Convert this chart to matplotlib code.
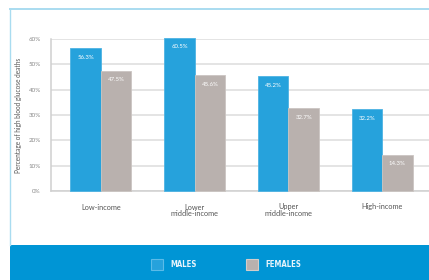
import matplotlib
matplotlib.use("Agg")
import matplotlib.pyplot as plt
import numpy as np
from matplotlib.patches import Rectangle
from matplotlib.lines import Line2D

# data
categories = ["Low-income", "Lower\nmiddle-income", "Upper\nmiddle-income", "High-income"]
males = [56.3, 60.5, 45.2, 32.2]
females = [47.5, 45.6, 32.7, 14.3]
yticks = [0, 10, 20, 30, 40, 50, 60]

BLUE = "#26A2DC"
GREY = "#B9B1AE"
BAND = "#0095D5"
FRAME = "#A9DCF0"

plt.rcParams["font.family"] = ["Lato", "DejaVu Sans"]

fig = plt.figure(figsize=(4.29, 2.80), dpi=100)
W, H = 429, 280

def fx(px):
    return px / W

def fy(py):
    return 1 - py / H

# frame and blue band at the bottom
fig.patches.append(Rectangle((fx(10), 0), 1 - fx(10), fy(245), transform=fig.transFigure,
                             facecolor=BAND, edgecolor="none", zorder=0))
fig.lines.append(Line2D([fx(10), 1], [fy(9), fy(9)], transform=fig.transFigure,
                        color=FRAME, lw=1.4))
fig.lines.append(Line2D([fx(10), fx(10)], [fy(9), fy(245)], transform=fig.transFigure,
                        color=FRAME, lw=1.0))

ax = fig.add_axes([fx(50.7), fy(191), 1 - fx(50.7), fy(39) - fy(191)])
x = np.arange(len(categories))
w = 0.325
b1 = ax.bar(x - w / 2, males, w, color=BLUE, edgecolor="#4DB3E3", linewidth=0.6,
            zorder=3, clip_on=False)
b2 = ax.bar(x + w / 2, females, w, color=GREY, edgecolor="#CBC5C2", linewidth=0.6,
            zorder=3, clip_on=False)

for bars, vals in ((b1, males), (b2, females)):
    for r, v in zip(bars, vals):
        ax.annotate(f"{v}%", (r.get_x() + r.get_width() / 2, v), xytext=(0, -6.5),
                    textcoords="offset points", ha="center", va="center",
                    color="white", fontsize=4.3, zorder=4, annotation_clip=False)

ax.set_xlim(-0.535, 3.5)
ax.set_ylim(0, 60)
ax.set_yticks(yticks)
ax.set_yticklabels([f"{t}%" for t in yticks])
ax.tick_params(axis="y", length=0, pad=7, labelsize=4.5, labelcolor="#8A8A8A")
ax.set_xticks(x)
ax.set_xticklabels(categories, linespacing=1.0)
ax.tick_params(axis="x", length=0, pad=9, labelsize=5.3, labelcolor="#555555")
ax.grid(axis="y", color="#DCDCDC", lw=1.1, zorder=0)
ax.set_axisbelow(True)
for s in ("top", "right"):
    ax.spines[s].set_visible(False)
for s in ("left", "bottom"):
    ax.spines[s].set_color("#D0D0D0")
    ax.spines[s].set_linewidth(1.1)
ax.set_ylabel("Percentage of high blood glucose deaths", fontsize=4.7, color="#555555", labelpad=5)

# legend in the band
for sx, col, ec, label, tx in ((151, BLUE, "#5BBBE8", "MALES", 170),
                              (246, GREY, "#D3CDCA", "FEMALES", 265)):
    fig.patches.append(Rectangle((fx(sx), fy(270)), fx(11.5), fy(259) - fy(270),
                                 transform=fig.transFigure, facecolor=col,
                                 edgecolor=ec, lw=0.8))
    fig.text(fx(tx), fy(264.5), label, ha="left", va="center", color="#E8F4FB",
             fontsize=5.6, fontweight="bold", fontstretch="condensed",
             family=["DejaVu Sans", "Liberation Sans"])

fig.savefig("out.png", dpi=100)
